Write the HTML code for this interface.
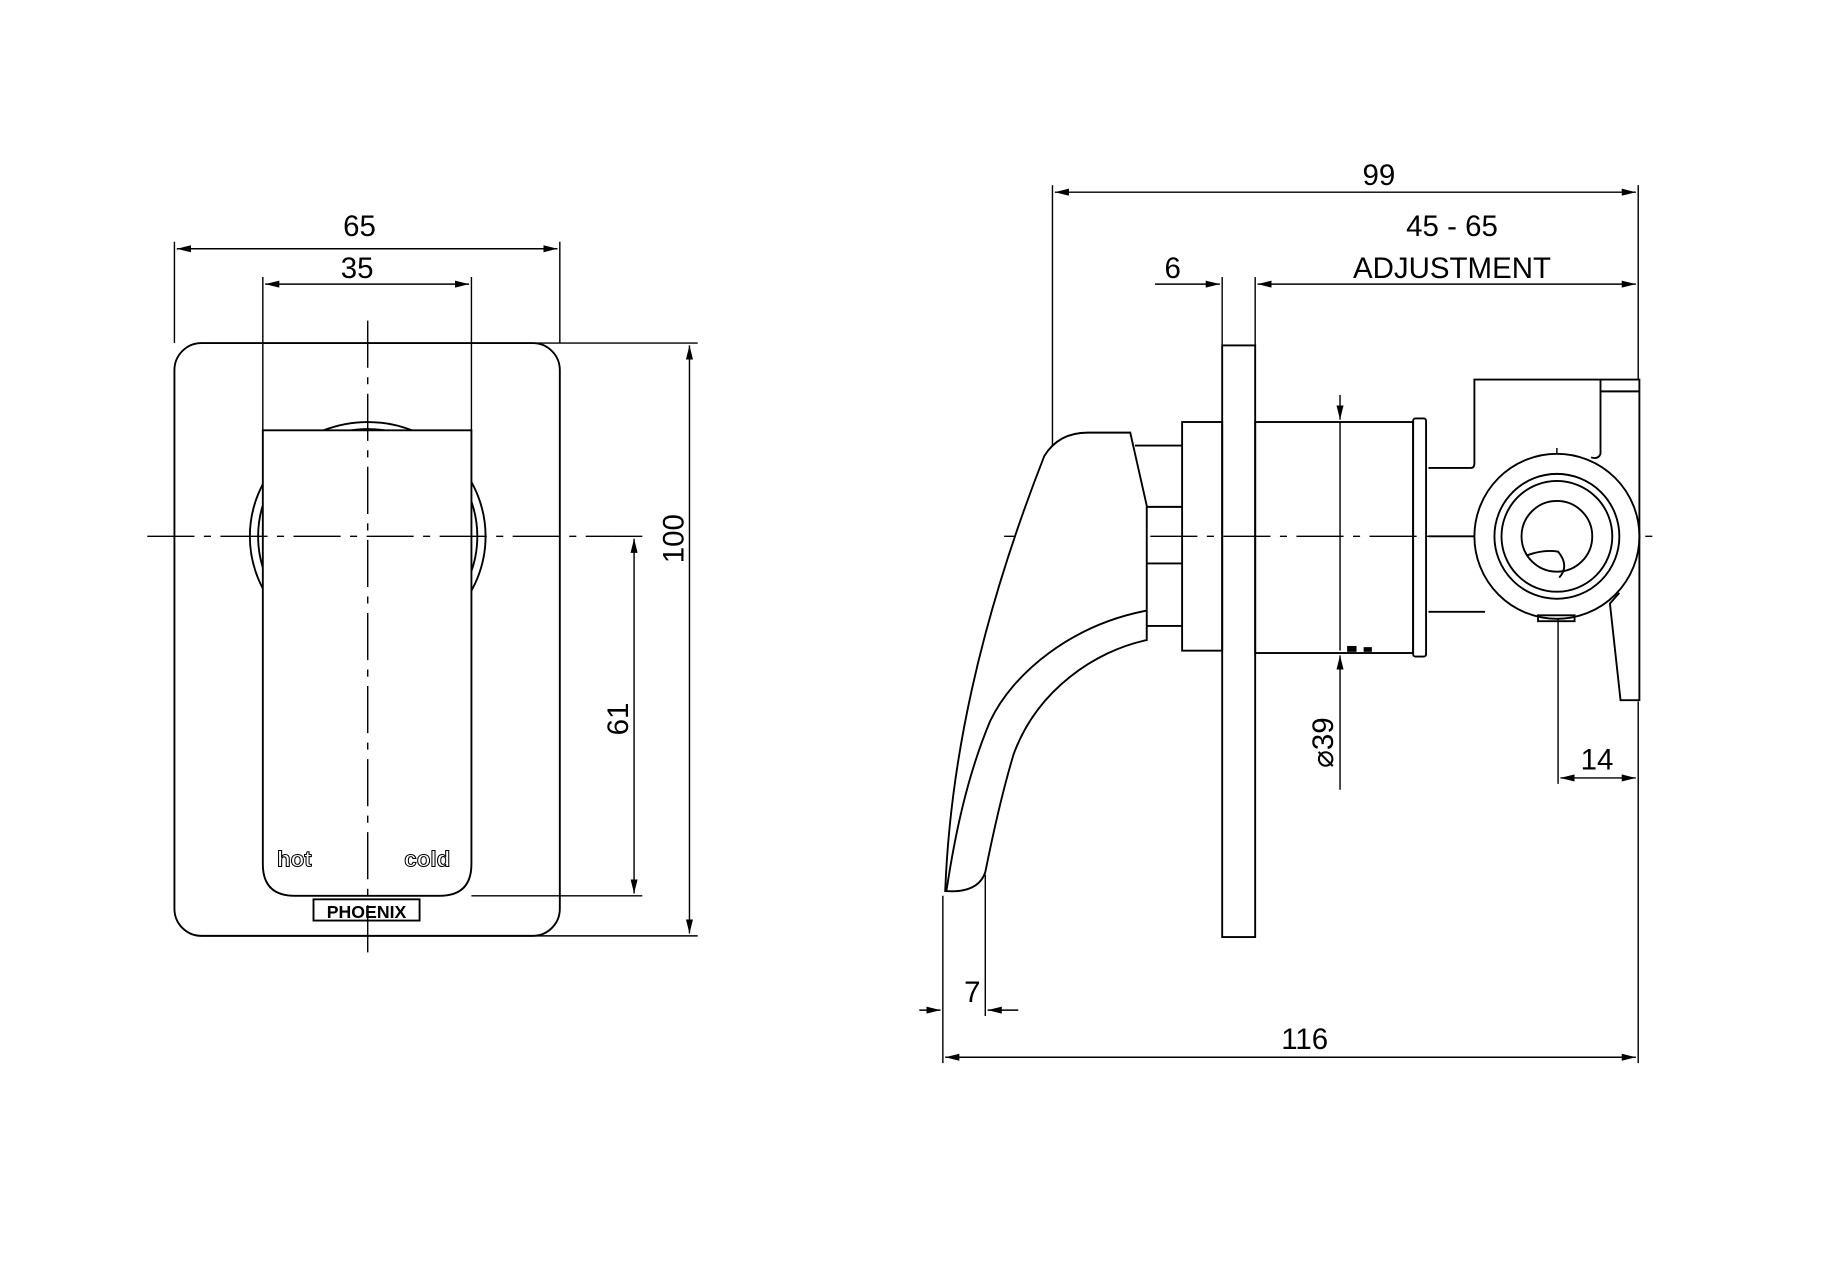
<!DOCTYPE html>
<html><head><meta charset="utf-8"><style>
html,body{margin:0;padding:0;background:#fff;}
svg{display:block;}
text{font-family:"Liberation Sans",sans-serif;fill:#000;}
</style></head><body>
<svg width="1848" height="1286" viewBox="0 0 1568 1091" xmlns="http://www.w3.org/2000/svg">
<defs>
<marker id="a" viewBox="0 0 12 6" refX="12" refY="3" markerWidth="12" markerHeight="6" orient="auto-start-reverse" markerUnits="userSpaceOnUse">
<path d="M0,0 L12,3 L0,6 Z" fill="#000"/></marker>
</defs>
<g fill="none" stroke="#000" stroke-width="1.6">
<!-- LEFT VIEW -->
<rect x="148" y="291" width="327" height="503" rx="23"/>
<ellipse cx="312" cy="455" rx="100" ry="97"/>
<ellipse cx="312" cy="455" rx="93" ry="91"/>
<path d="M223,365 H400 V733 Q400,760 373,760 H250 Q223,760 223,733 Z" fill="#fff"/>
<rect x="266" y="763" width="90" height="18"/>
<!-- center lines -->
<g stroke-width="1.2" stroke-dasharray="40,8,6,8">
<line x1="125" y1="455" x2="520" y2="455"/>
<line x1="312" y1="272" x2="312" y2="810"/>
<line x1="852" y1="455" x2="1410" y2="455"/>
<line x1="1321" y1="380" x2="1321" y2="525"/>
</g>
<g stroke-width="1.2">
<!-- dims left -->
<line x1="148" y1="205" x2="148" y2="291"/>
<line x1="475" y1="205" x2="475" y2="291"/>
<line x1="150" y1="211" x2="473" y2="211" marker-start="url(#a)" marker-end="url(#a)"/>
<line x1="223" y1="235" x2="223" y2="365"/>
<line x1="400" y1="235" x2="400" y2="365"/>
<line x1="225" y1="241" x2="398" y2="241" marker-start="url(#a)" marker-end="url(#a)"/>
<line x1="455" y1="291" x2="592" y2="291"/>
<line x1="455" y1="794" x2="592" y2="794"/>
<line x1="585" y1="293" x2="585" y2="792" marker-start="url(#a)" marker-end="url(#a)"/>
<line x1="520" y1="455" x2="545" y2="455"/>
<line x1="400" y1="760" x2="545" y2="760"/>
<line x1="538" y1="457" x2="538" y2="758" marker-start="url(#a)" marker-end="url(#a)"/>
<!-- dims right -->
<line x1="893" y1="157" x2="893" y2="383"/>
<line x1="1390" y1="157" x2="1390" y2="322"/>
<line x1="1390" y1="595" x2="1390" y2="902"/>
<line x1="895" y1="163" x2="1388" y2="163" marker-start="url(#a)" marker-end="url(#a)"/>
<line x1="1037" y1="235" x2="1037" y2="293"/>
<line x1="1065" y1="235" x2="1065" y2="293"/>
<line x1="980" y1="241" x2="1035" y2="241" marker-end="url(#a)"/>
<line x1="1067" y1="241" x2="1388" y2="241" marker-start="url(#a)" marker-end="url(#a)"/>
<line x1="1137" y1="335" x2="1137" y2="356" marker-end="url(#a)"/>
<line x1="1137" y1="358" x2="1137" y2="552"/>
<line x1="1137" y1="670" x2="1137" y2="556" marker-end="url(#a)"/>
<line x1="1322" y1="525" x2="1322" y2="665"/>
<line x1="1324" y1="660" x2="1388" y2="660" marker-start="url(#a)" marker-end="url(#a)"/>
<line x1="800" y1="760" x2="800" y2="902"/>
<line x1="836" y1="742" x2="836" y2="862"/>
<line x1="780" y1="857" x2="798" y2="857" marker-end="url(#a)"/>
<line x1="864" y1="857" x2="838" y2="857" marker-end="url(#a)"/>
<line x1="802" y1="897" x2="1388" y2="897" marker-start="url(#a)" marker-end="url(#a)"/>
</g>
<!-- RIGHT VIEW -->
<rect x="1037" y="293" width="28" height="502"/>
<rect x="1003" y="358" width="34" height="194"/>
<rect x="1065" y="358" width="134" height="196"/>
<rect x="1199" y="355" width="11" height="202" rx="2"/>
<path d="M1003,378 H963 M1003,430 H973 M1003,478 H973 M1003,531 H973"/>
<!-- lever -->
<path d="M886,387 Q898,367 923,367 H959 L973,429 V543 C930,552 880,585 860,640 C848,680 840,720 836,740 Q830,758 802,756 C806,650 830,530 886,387 Z" fill="#fff"/>
<path d="M973,518 C910,530 860,570 840,612 C820,660 810,710 803,756"/>
<!-- valve -->
<path d="M1212,397 H1248 Q1251,397 1251,393 V322 H1391 V594 H1375 L1366,512 L1374,503"/>
<path d="M1358,322 V332 H1391 M1358,332 V385 Q1356,390 1350,388"/>
<circle cx="1321" cy="455" r="70" fill="#fff"/>
<circle cx="1321" cy="455" r="53"/>
<circle cx="1321" cy="455" r="47"/>
<circle cx="1321" cy="455" r="30"/>
<path d="M1296,471 Q1310,466 1322,468 Q1332,480 1323,490"/>
<path d="M1212,519 H1260"/>
<rect x="1305" y="522" width="31" height="5"/>
<line x1="1212" y1="455" x2="1251" y2="455"/>
</g>
<g fill="#000">
<rect x="1143" y="548" width="8" height="5"/><rect x="1157" y="549" width="7" height="4"/>
</g>
<g font-size="25" text-anchor="middle">
<text x="305" y="200">65</text>
<text x="303" y="236">35</text>
<text x="1170" y="157">99</text>
<text x="1232" y="200">45 - 65</text>
<text x="1232" y="236">ADJUSTMENT</text>
<text x="995" y="236">6</text>
<text x="1355" y="653">14</text>
<text x="825" y="850">7</text>
<text x="1107" y="890">116</text>
<text transform="translate(580,457) rotate(-90)">100</text>
<text transform="translate(533,610) rotate(-90)">61</text>
<text transform="translate(1131,630) rotate(-90)">⌀39</text>
</g>
<g font-size="19" font-weight="bold" fill="none" stroke="#000" stroke-width="0.9">
<text x="235" y="735" style="fill:#fff">hot</text>
<text x="343" y="735" style="fill:#fff">cold</text>
</g>
<text x="311" y="779" font-size="15" text-anchor="middle" font-weight="bold">PHOENIX</text>
</svg>
</body></html>
